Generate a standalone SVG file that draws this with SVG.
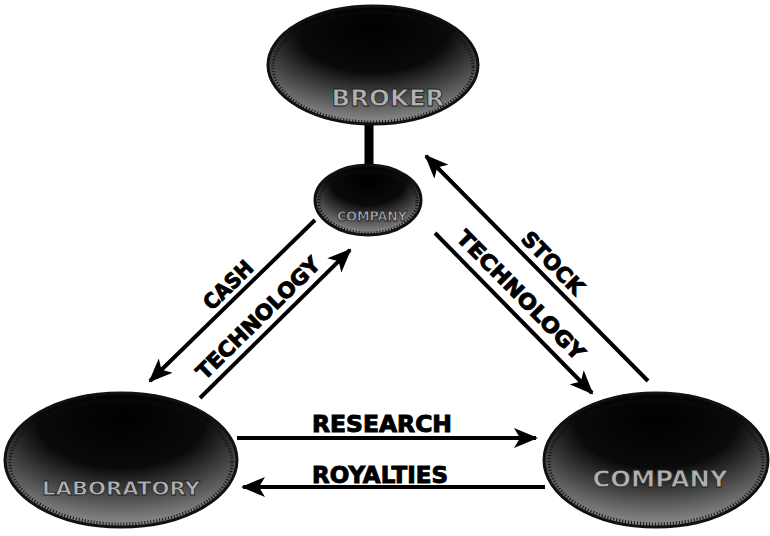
<svg xmlns="http://www.w3.org/2000/svg" width="770" height="536" viewBox="0 0 770 536">
<defs>
<radialGradient id="shade" cx="0.5" cy="0.2" r="0.9" fx="0.5" fy="0.15">
<stop offset="0" stop-color="#000"/>
<stop offset="0.42" stop-color="#0a0a0a"/>
<stop offset="0.7" stop-color="#555"/>
<stop offset="1" stop-color="#a5a5a5"/>
</radialGradient>
<marker id="ah" viewBox="0 0 12 10" refX="11" refY="5" markerWidth="6" markerHeight="5" orient="auto" markerUnits="strokeWidth">
<path d="M0,0 L12,5 L0,10 L3,5 z" fill="#000"/>
</marker>
</defs>
<style>
.node ellipse{fill:url(#shade);stroke:#111;stroke-width:3}
.rim{fill:none;stroke:#a0a0a0;stroke-width:2;stroke-dasharray:1 2}
.nt{font-family:"DejaVu Sans","Liberation Sans",sans-serif;font-weight:bold;fill:#b0b0b0;stroke:#222;stroke-width:0.8;text-anchor:middle}
.lbl{font-family:"DejaVu Sans","Liberation Sans",sans-serif;font-weight:bold;fill:#000;stroke:#000;stroke-width:1;text-anchor:middle}
.arr{stroke:#000;stroke-width:4;fill:none;marker-end:url(#ah)}
</style>
<rect width="770" height="536" fill="#fff"/>
<g id="connectors">
<line x1="369" y1="122" x2="369" y2="168" stroke="#000" stroke-width="9"/>
<line class="arr" x1="315" y1="220" x2="150" y2="381"/>
<line class="arr" x1="200" y1="398" x2="350" y2="250"/>
<line class="arr" x1="648" y1="381" x2="426" y2="156"/>
<line class="arr" x1="435" y1="233" x2="592" y2="393"/>
<line class="arr" x1="237" y1="438" x2="536" y2="438"/>
<line class="arr" x1="545" y1="487" x2="243" y2="487"/>
<text class="lbl" font-size="23" x="382" y="432" textLength="140" lengthAdjust="spacingAndGlyphs">RESEARCH</text>
<text class="lbl" font-size="23" x="380" y="483" textLength="136" lengthAdjust="spacingAndGlyphs">ROYALTIES</text>
<text class="lbl" font-size="21" transform="translate(228,285) rotate(-44.3)" y="7.5" textLength="60" lengthAdjust="spacingAndGlyphs">CASH</text>
<text class="lbl" font-size="21" transform="translate(258,318) rotate(-44.5)" y="7.5" textLength="164" lengthAdjust="spacingAndGlyphs">TECHNOLOGY</text>
<text class="lbl" font-size="21" transform="translate(553,263) rotate(45.5)" y="7.5" textLength="79" lengthAdjust="spacingAndGlyphs">STOCK</text>
<text class="lbl" font-size="21" transform="translate(521,295) rotate(45.5)" y="7.5" textLength="172" lengthAdjust="spacingAndGlyphs">TECHNOLOGY</text>
</g>
<g id="broker" class="node">
<ellipse cx="373" cy="65" rx="105" ry="59"/>
<ellipse class="rim" cx="373" cy="67" rx="100" ry="55"/>
<text class="nt" x="388" y="106" font-size="23" textLength="113" lengthAdjust="spacingAndGlyphs">BROKER</text>
</g>
<g id="small-company" class="node">
<ellipse cx="368" cy="200" rx="53" ry="35"/>
<ellipse class="rim" cx="368" cy="202" rx="49" ry="31"/>
<text class="nt" x="372" y="221" font-size="14" textLength="70" lengthAdjust="spacingAndGlyphs">COMPANY</text>
</g>
<g id="laboratory" class="node">
<ellipse cx="121" cy="460" rx="116" ry="67"/>
<ellipse class="rim" cx="121" cy="462" rx="111" ry="62"/>
<text class="nt" x="121" y="495" font-size="20" textLength="158" lengthAdjust="spacingAndGlyphs">LABORATORY</text>
</g>
<g id="company" class="node">
<ellipse cx="656" cy="460" rx="112" ry="67"/>
<ellipse class="rim" cx="656" cy="462" rx="107" ry="62"/>
<text class="nt" x="660" y="487" font-size="23" textLength="135" lengthAdjust="spacingAndGlyphs">COMPANY</text>
</g>
</svg>
